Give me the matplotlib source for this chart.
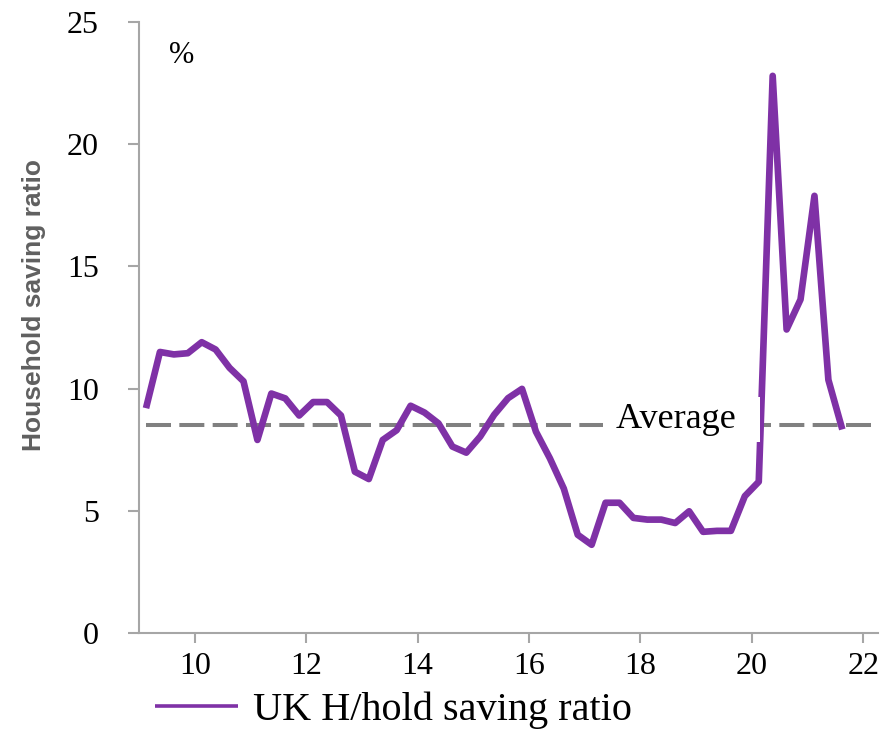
import numpy as np
import pandas as pd
import matplotlib
matplotlib.use("Agg")
import matplotlib.pyplot as plt

# UK household saving ratio, quarterly, % of disposable income
quarters = pd.period_range("2009Q1", "2021Q3", freq="Q")
saving_ratio = [
    9.2, 11.5, 11.4, 11.45, 11.9, 11.6, 10.85, 10.3,   # 2009-2010
    7.9, 9.8, 9.6, 8.9, 9.45, 9.45, 8.9, 6.6,          # 2011-2012
    6.3, 7.9, 8.3, 9.3, 9.02, 8.58, 7.63, 7.38,        # 2013-2014
    8.04, 8.93, 9.61, 9.99, 8.24, 7.15, 5.91, 4.02,    # 2015-2016
    3.61, 5.33, 5.33, 4.71, 4.64, 4.64, 4.50, 4.98,    # 2017-2018
    4.14, 4.18, 4.18, 5.60, 6.19, 22.8, 12.42, 13.65,  # 2019-2020
    17.89, 10.36, 8.33,                                # 2021
]
average = 8.5
series_label = "UK H/hold saving ratio"
y_label = "Household saving ratio"
y_ticks = [0, 5, 10, 15, 20, 25]
x_ticks = [10, 12, 14, 16, 18, 20, 22]

# plot quarters at mid-quarter, years as two digits
x = np.array([q.year - 2000 + (q.quarter - 0.5) / 4 for q in quarters])

purple = "#7F31A6"
grey = "#808080"
spine_col = "#A6A6A6"
serif = "Liberation Serif"

plt.rcParams["lines.scale_dashes"] = False

fig = plt.figure(figsize=(8.8, 7.29), dpi=100)
ax = fig.add_axes([0.158, 0.1317, 0.84, 0.838])

ax.plot(x, saving_ratio, color=purple, lw=4.8, solid_joinstyle="round",
        solid_capstyle="butt", zorder=3, label=series_label)
ax.plot([x[0], 22.27], [average, average], color=grey, lw=2.9,
        dashes=(18, 6), zorder=2)
# white box behind the label blanks out the lines underneath
ax.text(17.44, 8.75, " Average  ", family=serif, fontsize=26, ha="left",
        va="center", zorder=5,
        bbox=dict(facecolor="white", edgecolor="none", pad=4.5))

ax.text(0.058, 0.945, "%", transform=ax.transAxes, family=serif,
        fontsize=22, ha="center", va="center")

ax.set_xlim(9, 22.27)
ax.set_ylim(0, 25)
ax.set_xticks(x_ticks)
ax.set_yticks(y_ticks)
ax.set_xticklabels([str(t) for t in x_ticks], family=serif, fontsize=23)
ax.set_yticklabels([str(t) for t in y_ticks], family=serif, fontsize=23)

for side in ["top", "right"]:
    ax.spines[side].set_visible(False)
for side in ["left", "bottom"]:
    ax.spines[side].set_color(spine_col)
    ax.spines[side].set_linewidth(1.5)
ax.tick_params(axis="x", direction="out", length=7.5, width=1.5,
               color=spine_col, pad=6)
ax.tick_params(axis="y", direction="out", length=8, width=1.5,
               color=spine_col, pad=21)

ax.set_ylabel(y_label, family="Liberation Sans", fontweight="bold",
              fontsize=19, color="#606060")
ax.yaxis.set_label_coords(-0.1255, 0.537)

leg = fig.legend(loc="lower left", bbox_to_anchor=(155 / 880, 0.0),
                 frameon=False, prop=dict(family=serif, size=29),
                 handlelength=2.07, handletextpad=0.37, borderpad=0,
                 borderaxespad=0)
leg.get_lines()[0].set_linewidth(2.6)

fig.savefig("out.png", dpi=100)
